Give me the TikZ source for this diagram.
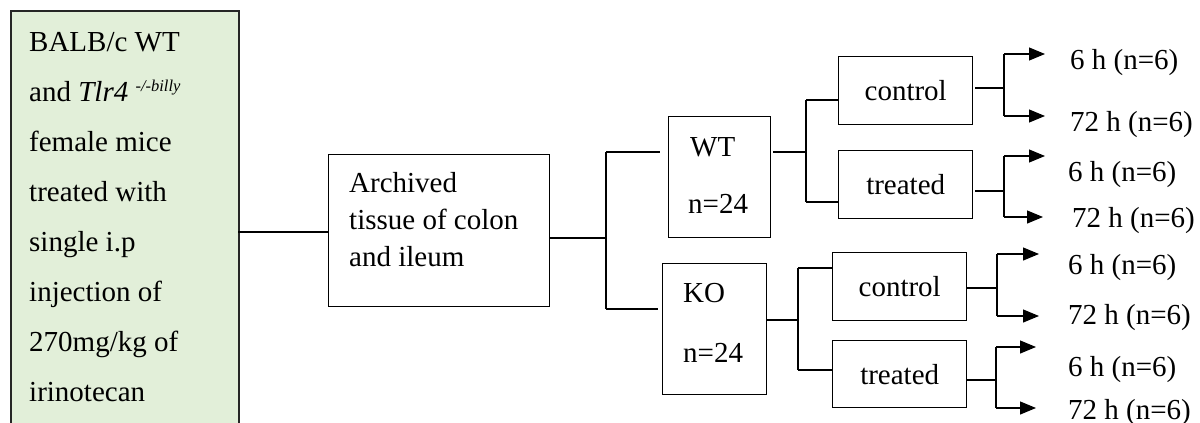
\documentclass[tikz,border=0pt]{standalone}
\usepackage{fontspec}
\setmainfont{Liberation Serif}
\usetikzlibrary{arrows.meta}
\definecolor{boxgreen}{HTML}{E2EFD9}
\begin{document}
\begin{tikzpicture}[x=1pt,y=-1pt,
  font=\fontsize{29}{35}\selectfont,
  box/.style={draw=black, line width=1.4pt, inner sep=0pt, anchor=north west},
  conn/.style={line width=1.2pt},
  arr/.style={conn, -{Triangle[length=16pt,width=13pt]}},
  lbl/.style={anchor=base west, inner sep=0pt}]
\useasboundingbox (0,0) rectangle (1200,423);
\clip (0,0) rectangle (1200,423);
% boxes
\node[box, fill=boxgreen, draw=black!85, line width=2pt, minimum width=228pt, minimum height=440pt] (mice) at (10,10) {};
\node[box, minimum width=221pt, minimum height=152pt] (arch) at (328,154) {};
\node[box, minimum width=102pt, minimum height=121pt] (wt) at (668,116) {};
\node[box, minimum width=104pt, minimum height=131pt] (ko) at (662,263) {};
\node[box, minimum width=134pt, minimum height=68pt] (wtc) at (838,56) {control};
\node[box, minimum width=134pt, minimum height=68pt] (wtt) at (838,150) {treated};
\node[box, minimum width=134pt, minimum height=68pt] (koc) at (832,252) {control};
\node[box, minimum width=134pt, minimum height=67pt] (kot) at (832,340) {treated};
% texts
\node[lbl] (g1) at (29,51) {BALB/c WT};
\node[lbl] (g2) at (29,101) {and \textit{Tlr4} \raisebox{10pt}{\fontsize{16.5}{18}\selectfont\itshape -/-billy}};
\node[lbl] (g3) at (29,151) {female mice};
\node[lbl] (g4) at (29,201) {treated with};
\node[lbl] (g5) at (29,251) {single i.p};
\node[lbl] (g6) at (29,301) {injection of};
\node[lbl] (g7) at (29,351) {270mg/kg of};
\node[lbl] (g8) at (29,401) {irinotecan};
\node[lbl] (a1) at (349,192) {Archived};
\node[lbl] (a2) at (349,229) {tissue of colon};
\node[lbl] (a3) at (349,266) {and ileum};
\node[lbl] (wt1) at (690,156) {WT};
\node[lbl] (wt2) at (688,213) {n=24};
\node[lbl] (ko1) at (683,302) {KO};
\node[lbl] (ko2) at (683,362) {n=24};
\node[lbl] (t1) at (1070,69) {6 h (n=6)};
\node[lbl] (t2) at (1070,131) {72 h (n=6)};
\node[lbl] (t3) at (1068,181) {6 h (n=6)};
\node[lbl] (t4) at (1072,227) {72 h (n=6)};
\node[lbl] (t5) at (1068,274) {6 h (n=6)};
\node[lbl] (t6) at (1068,324) {72 h (n=6)};
\node[lbl] (t7) at (1068,376) {6 h (n=6)};
\node[lbl] (t8) at (1068,419) {72 h (n=6)};
% junction coordinates
\coordinate (c0) at (238,232);
\coordinate (s1) at (606,238);
\coordinate (s1t) at (606,152);
\coordinate (s1b) at (606,309);
\coordinate (wtin) at (660,152);
\coordinate (koin) at (658,309);
\coordinate (s2) at (806,152);
\coordinate (s2t) at (806,100);
\coordinate (s2b) at (806,202);
\coordinate (s3) at (798,320);
\coordinate (s3t) at (798,268);
\coordinate (s3b) at (798,370);
\coordinate (p1) at (1004,88);
\coordinate (p1t) at (1004,54);
\coordinate (p1b) at (1004,116);
\coordinate (p2) at (1004,191);
\coordinate (p2t) at (1004,156);
\coordinate (p2b) at (1004,217);
\coordinate (p3) at (997,288);
\coordinate (p3t) at (997,254);
\coordinate (p3b) at (997,316);
\coordinate (p4) at (996,380);
\coordinate (p4t) at (996,347);
\coordinate (p4b) at (996,408);
\coordinate (e1) at (1045,54);
\coordinate (e2) at (1045,116);
\coordinate (e3) at (1045,156);
\coordinate (e4) at (1043,217);
\coordinate (e5) at (1039,254);
\coordinate (e6) at (1039,316);
\coordinate (e7) at (1036,347);
\coordinate (e8) at (1036,408);
% connectors
\draw[conn] (c0) -- (arch.west |- c0);
\draw[conn] (arch.east |- s1) -- (s1);
\draw[conn] (s1t) -- (s1b);
\draw[conn] (s1t) -- (wtin);
\draw[conn] (s1b) -- (koin);
\draw[conn] ([xshift=2pt]wt.east |- s2) -- (s2);
\draw[conn] (s2t) -- (s2b);
\draw[conn] (s2t) -- (wtc.west |- s2t);
\draw[conn] (s2b) -- (wtt.west |- s2b);
\draw[conn] (ko.east |- s3) -- (s3);
\draw[conn] (s3t) -- (s3b);
\draw[conn] (s3t) -- (koc.west |- s3t);
\draw[conn] (s3b) -- (kot.west |- s3b);
\draw[conn] ([xshift=2pt]wtc.east |- p1) -- (p1);
\draw[conn] (p1t) -- (p1b);
\draw[arr] (p1t) -- (e1);
\draw[arr] (p1b) -- (e2);
\draw[conn] ([xshift=2pt]wtt.east |- p2) -- (p2);
\draw[conn] (p2t) -- (p2b);
\draw[arr] (p2t) -- (e3);
\draw[arr] (p2b) -- (e4);
\draw[conn] (koc.east |- p3) -- (p3);
\draw[conn] (p3t) -- (p3b);
\draw[arr] (p3t) -- (e5);
\draw[arr] (p3b) -- (e6);
\draw[conn] (kot.east |- p4) -- (p4);
\draw[conn] (p4t) -- (p4b);
\draw[arr] (p4t) -- (e7);
\draw[arr] (p4b) -- (e8);
\end{tikzpicture}
\end{document}
